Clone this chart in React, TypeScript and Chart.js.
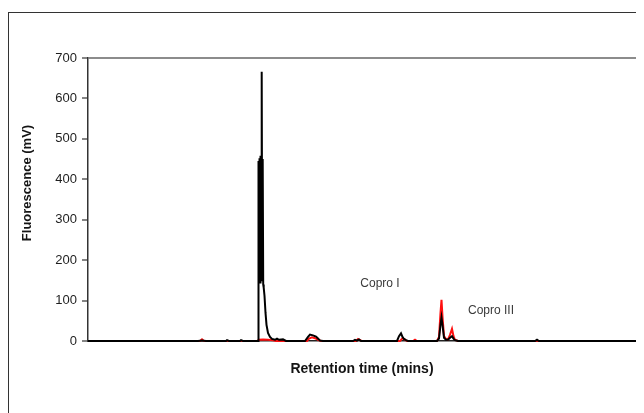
import React, { useEffect, useRef } from "react";
import { Chart, registerables } from "chart.js";

Chart.register(...registerables);

// Retention time (mins) and signal for the black trace
const blackTimes = [
  0, 11.0, 11.4, 11.8, 13.8, 13.9, 14.1, 15.2, 15.3, 15.5, 16.9,
  17.0, 17.05, 17.1, 17.15, 17.2, 17.25, 17.3, 17.37, 17.42, 17.47, 17.52, 17.57, 17.65, 17.75, 17.85, 18.0, 18.2, 18.4, 18.7, 18.9, 19.1, 19.5, 19.8,
  21.7, 22.0, 22.2, 22.5, 22.8, 23.0, 23.2, 23.5,
  26.5, 26.7, 26.9, 27.1, 27.3,
  30.9, 31.1, 31.3, 31.45, 31.6, 31.8, 32.0,
  34.9, 35.1, 35.25, 35.35, 35.45, 35.6, 35.8, 36.0, 36.2, 36.4, 36.55, 36.7, 37.0,
  44.7, 44.9, 45.1, 60,
];
const blackValues = [
  0, 0, 1.5, 0, 0, 2, 0, 0, 2, 0, 0,
  0, 445, 150, 452, 145, 458, 160, 666, 150, 450, 140, 132, 112, 70, 40, 20, 10, 5, 3, 6, 3, 4, 0,
  0, 10, 16, 14, 11, 6, 1, 0,
  0, 3, 1, 4, 0,
  0, 12, 19, 10, 5, 2, 0,
  0, 6, 40, 58, 40, 8, 3, 3, 8, 12, 6, 2, 0,
  0, 3, 0, 0,
];

// Retention time (mins) and signal for the red trace
const redTimes = [
  0, 11.2, 11.4, 11.6,
  16.9, 17.1, 17.5, 18.0, 18.5, 18.8,
  21.9, 22.1, 22.4, 22.7, 23.0, 23.3,
  26.8, 27.0, 27.2, 27.4,
  31.2, 31.45, 31.65, 31.9, 32.5, 32.7, 32.9,
  34.9, 35.1, 35.25, 35.35, 35.45, 35.6, 35.8, 36.0, 36.2, 36.4, 36.55, 36.7, 37.0,
  60,
];
const redValues = [
  0, 0, 4, 0,
  0, 3, 4, 3, 2, 0,
  0, 6, 9, 7, 3, 0,
  0, 5, 2, 0,
  0, 7, 4, 0, 0, 3, 0,
  0, 10, 70, 102, 60, 12, 5, 4, 15, 30, 12, 3, 0,
  0,
];

const yTicks = [0, 100, 200, 300, 400, 500, 600, 700];

const annotations = [
  { text: "Copro I", t: 29.2, v: 141 },
  { text: "Copro III", t: 40.3, v: 74 },
];

const xTitle = "Retention time (mins)";
const yTitle = "Fluorescence (mV)";

const textPlugin = {
  id: "textPlugin",
  afterDraw(chart: any) {
    const { ctx, chartArea, scales } = chart;
    ctx.save();
    ctx.textAlign = "center";
    ctx.textBaseline = "middle";
    ctx.fillStyle = "#141414";
    ctx.font = "bold 14px 'Liberation Sans', Arial, sans-serif";
    ctx.fillText(xTitle, chartArea.left + 274, chartArea.bottom + 28);

    ctx.save();
    ctx.translate(18, chartArea.top + 125);
    ctx.rotate(-Math.PI / 2);
    ctx.font = "bold 13px 'Liberation Sans', Arial, sans-serif";
    ctx.fillText(yTitle, 0, 0);
    ctx.restore();

    ctx.fillStyle = "#3a3a3a";
    ctx.font = "12px 'Liberation Sans', Arial, sans-serif";
    for (const a of annotations) {
      ctx.fillText(a.text, scales.x.getPixelForValue(a.t), scales.y.getPixelForValue(a.v));
    }
    ctx.restore();
  },
};

export default function App() {
  const ref = useRef<HTMLCanvasElement>(null);

  useEffect(() => {
    if (!ref.current) return;
    const chart = new Chart(ref.current, {
      type: "line",
      data: {
        datasets: [
          {
            data: blackTimes.map((t, i) => ({ x: t, y: blackValues[i] })),
            borderColor: "#000000",
            borderWidth: 2,
            pointRadius: 0,
            tension: 0,
            clip: 6,
          },
          {
            data: redTimes.map((t, i) => ({ x: t, y: redValues[i] })),
            borderColor: "#ff1010",
            borderWidth: 2,
            pointRadius: 0,
            tension: 0,
            clip: 6,
          },
        ],
      },
      options: {
        animation: false,
        responsive: false,
        maintainAspectRatio: false,
        layout: { padding: { left: 0, top: 45, right: 11, bottom: 72 } },
        plugins: { legend: { display: false }, tooltip: { enabled: false } },
        scales: {
          x: {
            type: "linear",
            min: 0,
            max: 60,
            ticks: { display: false },
            grid: { display: false, drawTicks: false },
            border: { display: true, color: "#222", width: 1.5 },
            afterFit: (s: any) => {
              s.height = 0;
            },
          },
          y: {
            min: 0,
            max: 700,
            afterBuildTicks: (s: any) => {
              s.ticks = yTicks.map((v) => ({ value: v }));
            },
            ticks: {
              color: "#1e1e1e",
              padding: 5,
              font: { family: "'Liberation Sans', Arial, sans-serif", size: 13 },
            },
            grid: {
              color: (c: any) => (c.tick && c.tick.value === 700 ? "#8c8c8c" : "rgba(0,0,0,0)"),
              lineWidth: 2,
              tickColor: "#333",
              tickLength: 6,
              tickWidth: 1.2,
            },
            border: { display: true, color: "#333", width: 1.5 },
            afterFit: (s: any) => {
              s.width = 79;
            },
          },
        },
      },
      plugins: [textPlugin],
    });
    return () => chart.destroy();
  }, []);

  return (
    <div
      style={{
        marginTop: 4,
        width: 636,
        height: 401,
        boxSizing: "border-box",
        borderTop: "1px solid #333",
        borderLeft: "1px solid #333",
        overflow: "hidden",
        position: "relative",
        background: "#fff",
      }}
    >
      <canvas ref={ref} width={690} height={400} style={{ display: "block", width: 690, height: 400 }} />
    </div>
  );
}
